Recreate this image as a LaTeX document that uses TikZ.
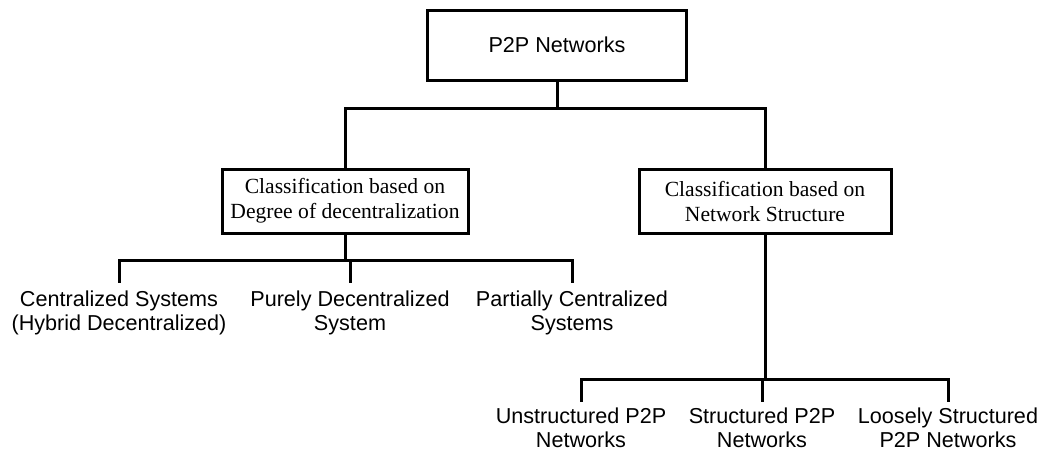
\documentclass[tikz,border=0pt]{standalone}
\usepackage{fontspec}
\setmainfont{Liberation Sans}
\newfontfamily\boxfont{Liberation Serif}

\begin{document}
\begin{tikzpicture}[x=0.5pt,y=-0.5pt,line width=1.5pt,
		box/.style={draw,align=center,inner sep=0pt},
		leaf/.style={anchor=north,align=center,inner sep=3pt,font=\fontsize{10.8}{12.2}\selectfont}
	]
	\useasboundingbox (0,0) rectangle (1046,452);
	
	\node[box,minimum width=129.5pt,minimum height=35pt,font=\fontsize{10.8}{12.5}\selectfont] (net) at (557,45) {P2P Networks};
	\node[box,minimum width=123pt,minimum height=32pt,font=\boxfont\fontsize{10.8}{12.5}\selectfont] (deg) at (345,201) {Classification based on\\Degree of decentralization};
	\node[box,minimum width=126pt,minimum height=32pt,font=\boxfont\fontsize{10.8}{12.5}\selectfont] (str) at (765,201) {Classification based on\\Network Structure};
	
	\node[leaf] (cen) at (119,283) {Centralized Systems\\(Hybrid Decentralized)};
	\node[leaf] (pur) at (350,283) {Purely Decentralized\\System};
	\node[leaf] (par) at (572,283) {Partially Centralized\\Systems};
	
	\node[leaf,inner sep=2pt] (uns) at (581,402) {Unstructured P2P\\Networks};
	\node[leaf,inner sep=2pt] (stru) at (762,402) {Structured P2P\\Networks};
	\node[leaf,inner sep=2pt] (loo) at (948,402) {Loosely Structured\\P2P Networks};
	
	\foreach \b in {deg,str}
		\draw (net.south) -- ++(0,27) -| (\b.north);
	\foreach \l in {cen,pur,par}
		\draw (deg.south) -- ++(0,26) -| (\l.north);
	\foreach \l in {uns,stru,loo}
		\draw (str.south) -- ++(0,145) -| (\l.north);
\end{tikzpicture}
\end{document}
